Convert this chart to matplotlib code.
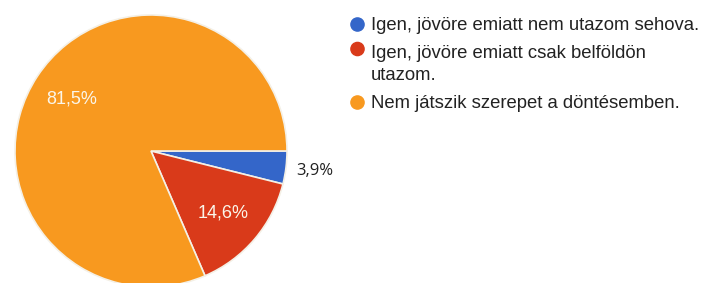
import matplotlib.pyplot as plt
from matplotlib.lines import Line2D
from matplotlib.markers import MarkerStyle
from matplotlib.transforms import Affine2D

plt.rcParams['font.family'] = ['Liberation Sans', 'DejaVu Sans']

labels = ['Igen, jövöre emiatt nem utazom sehova.',
          'Igen, jövöre emiatt csak belföldön\nutazom.',
          'Nem játszik szerepet a döntésemben.']
values = [3.9, 14.6, 81.5]
colors = ['#3466c9', '#d93a1a', '#f8991f']

fig = plt.figure(figsize=(7.04, 2.83), dpi=100)
ax = fig.add_axes([0, 0, 1, 1])

cx, cy, r = 151, 132, 136
wedges, texts, autotexts = ax.pie(
    values, colors=colors, startangle=0, counterclock=False,
    center=(cx, cy), radius=r, frame=True,
    autopct=lambda p: f'{p:.1f}%'.replace('.', ','), pctdistance=0.7,
    wedgeprops=dict(edgecolor='#f4f0e6', linewidth=1.2),
    textprops=dict(color='#fbf6ea', fontsize=13))
ax.set_xlim(0, 704)
ax.set_ylim(0, 283)
ax.set_aspect('equal')
ax.axis('off')

# smallest slice gets its label outside, in dark text
x, y = autotexts[0].get_position()
k = 1.21 / 0.7
autotexts[0].set_position((cx + (x - cx) * k, cy + (y - cy) * k))
autotexts[0].set_color('#222222')
autotexts[0].set_family(['Open Sans', 'DejaVu Sans'])
autotexts[0].set_fontsize(12)

handles = [Line2D([], [], marker='o', linestyle='none', markersize=9.5,
                  markerfacecolor=c, markeredgecolor=c) for c in colors]
leg = fig.legend(handles, labels, loc='upper left', bbox_to_anchor=(342 / 704, 1 - 10 / 283),
                 frameon=False, fontsize=13.3, handletextpad=0.35, handlelength=0.8,
                 labelspacing=0.6, labelcolor='#222222', borderaxespad=0)
for t in leg.get_texts():
    t.set_linespacing(1.35)
# two-line entry: marker sits by the first line, like the original
leg.legend_handles[1].set_marker(MarkerStyle('o', transform=Affine2D().translate(0, 1.25)))

fig.savefig('out.png', dpi=100)
